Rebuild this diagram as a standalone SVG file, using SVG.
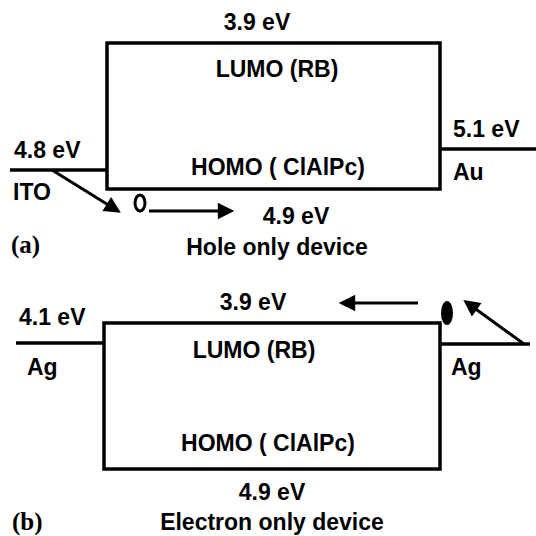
<svg xmlns="http://www.w3.org/2000/svg" width="536" height="536" viewBox="0 0 536 536">
<defs>
<style>
.ln{stroke:#000;stroke-width:3.5;fill:none}
.ar{stroke:#000;stroke-width:3;fill:none;marker-end:url(#ah)}
.t{font-family:"Liberation Sans",Arial,sans-serif;font-weight:bold;font-size:23px;fill:#000;text-anchor:middle}
.tl{font-family:"Liberation Sans",Arial,sans-serif;font-weight:bold;font-size:23px;fill:#000}
.s{font-family:"Liberation Serif","Times New Roman",serif;font-weight:bold;font-size:25px;fill:#000}
</style>
<marker id="ah" viewBox="0 0 10 10" refX="8" refY="5" markerWidth="6.5" markerHeight="5.5" markerUnits="strokeWidth" orient="auto">
<path d="M0,0 L10,5 L0,10 z" fill="#000"/>
</marker>
</defs>
<rect width="536" height="536" fill="#fff"/>
<g id="panel-a">
<g id="box-a"><rect class="ln" x="107" y="43" width="333" height="146"/></g>
<g id="ito"><line class="ln" x1="10" y1="170" x2="107" y2="170"/><text class="tl" x="13" y="200">ITO</text><text class="tl" x="14" y="158">4.8 eV</text></g>
<g id="au"><line class="ln" x1="440" y1="149" x2="536" y2="149"/><text class="tl" x="453" y="137">5.1 eV</text><text class="tl" x="453" y="180">Au</text></g>
<text class="t" x="257" y="30">3.9 eV</text>
<text class="t" x="277" y="77">LUMO (RB)</text>
<text class="t" x="278" y="175">HOMO ( ClAlPc)</text>
<text class="t" x="296" y="224">4.9 eV</text>
<text class="t" x="277" y="255">Hole only device</text>
<text class="s" x="11" y="253">(a)</text>
<g id="hole"><ellipse cx="140" cy="203" rx="5" ry="8" stroke="#000" stroke-width="3" fill="none"/></g>
</g>
<g id="panel-b">
<g id="box-b"><rect class="ln" x="104" y="323" width="336" height="146"/></g>
<g id="ag-left"><line class="ln" x1="16" y1="343" x2="104" y2="343"/><text class="tl" x="19" y="325">4.1 eV</text><text class="tl" x="27" y="375">Ag</text></g>
<g id="ag-right"><line class="ln" x1="440" y1="344" x2="530" y2="344"/><text class="tl" x="451" y="375">Ag</text></g>
<text class="t" x="253" y="310">3.9 eV</text>
<text class="t" x="254" y="358">LUMO (RB)</text>
<text class="t" x="268" y="451">HOMO ( ClAlPc)</text>
<text class="t" x="272" y="500">4.9 eV</text>
<text class="t" x="272" y="530">Electron only device</text>
<text class="s" x="12" y="530">(b)</text>
<g id="electron"><ellipse cx="447" cy="313" rx="6" ry="12" fill="#000"/></g>
</g>
<g id="connectors">
<line class="ar" x1="52" y1="170" x2="118" y2="211"/>
<line class="ar" x1="149" y1="211" x2="231" y2="211"/>
<line class="ar" x1="418" y1="303" x2="342" y2="303"/>
<line class="ar" x1="524" y1="344" x2="466" y2="302"/>
</g>
</svg>
